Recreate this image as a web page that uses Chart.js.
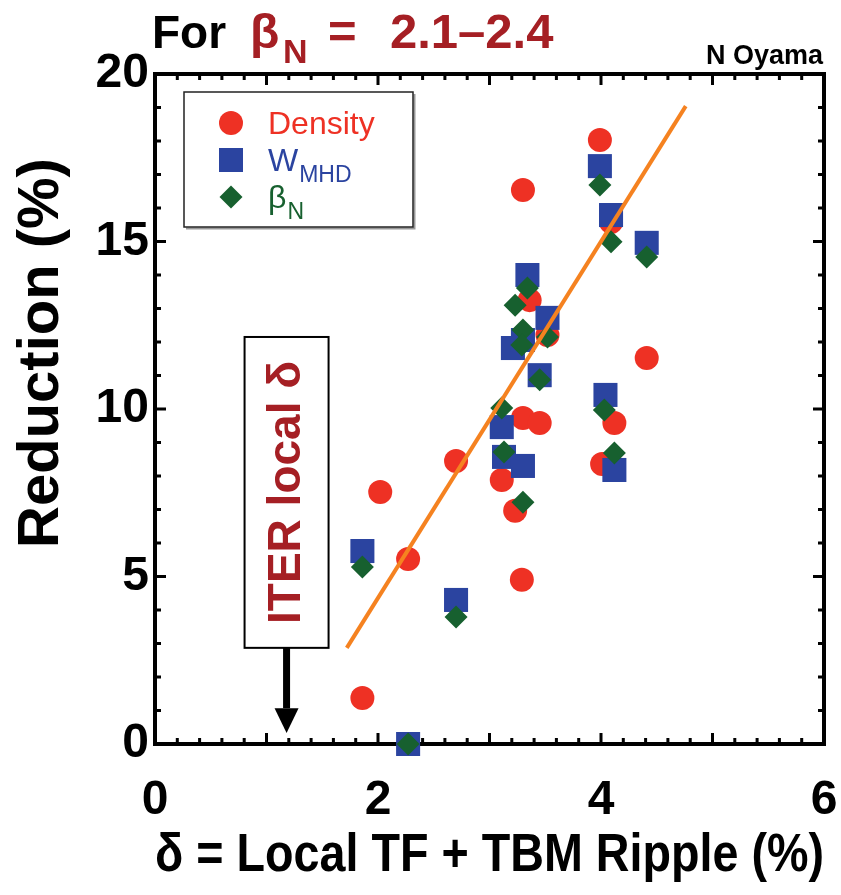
<!DOCTYPE html>
<html>
<head>
<meta charset="utf-8">
<script src="https://cdn.jsdelivr.net/npm/chart.js@4.4.0/dist/chart.umd.min.js"></script>
<style>
  html, body { margin: 0; padding: 0; background: #fff; }
  #wrap { width: 841px; height: 895px; }
</style>
</head>
<body>
<div id="wrap"><canvas id="rippleChart" width="841" height="895"></canvas></div>
<script>
// Reduction (%) vs local TF + TBM ripple (%), beta_N = 2.1-2.4
const densityX = [1.86, 2.02, 2.27, 2.70, 3.11, 3.23, 3.29, 3.30, 3.30, 3.36, 3.45, 3.52, 3.99, 4.09, 4.01, 4.12, 4.41];
const densityY = [1.37, 7.52, 5.52, 8.45, 7.88, 6.96, 4.90, 9.73, 16.54, 13.25, 9.58, 12.21, 18.03, 15.58, 8.36, 9.58, 11.52];

const wmhdX = [1.86, 2.27, 2.70, 3.11, 3.13, 3.30, 3.21, 3.30, 3.34, 3.52, 3.45, 3.99, 4.09, 4.41, 4.04, 4.12];
const wmhdY = [5.76, 0.0, 4.30, 9.46, 8.57, 8.30, 11.82, 12.06, 14.00, 12.72, 11.01, 17.25, 15.79, 14.96, 10.42, 8.18];

const betaX = [1.86, 2.27, 2.70, 3.11, 3.13, 3.30, 3.30, 3.29, 3.23, 3.34, 3.52, 3.45, 3.99, 4.09, 4.41, 4.03, 4.12];
const betaY = [5.28, 0.0, 3.79, 10.03, 8.72, 7.22, 12.36, 11.91, 13.10, 13.61, 12.15, 10.87, 16.69, 14.99, 14.54, 9.97, 8.69];

const fitX = [1.72, 4.76];
const fitY = [2.87, 19.04];

const xTicks = [0, 2, 4, 6];
const yTicks = [0, 5, 10, 15, 20];
const iterDelta = 1.18; // ITER local ripple marker

const FONT = "'Liberation Sans', Arial, sans-serif";
const RED = "#ee3124";
const BLUE = "#2b44a0";
const GREEN = "#17602f";
const DARKRED = "#a51f24";

function pts(xs, ys) {
  return xs.map((x, i) => ({ x: x, y: ys[i] }));
}

// frame with inward ticks on all four sides, legend, notes, titles
const framePlugin = {
  id: "frame",
  beforeDatasetsDraw(chart) {
    const { ctx, chartArea: a, scales } = chart;
    const xs = scales.x, ys = scales.y;
    ctx.save();
    ctx.strokeStyle = "#000";
    ctx.lineWidth = 3;
    for (let v = 0; v <= 6.001; v += 0.2) {
      const px = xs.getPixelForValue(v);
      const major = Math.abs(v - Math.round(v)) < 0.01;
      const len = major ? 11 : 6;
      ctx.beginPath();
      ctx.moveTo(px, a.bottom); ctx.lineTo(px, a.bottom - len);
      ctx.moveTo(px, a.top); ctx.lineTo(px, a.top + len);
      ctx.stroke();
    }
    for (let v = 0; v <= 20; v += 1) {
      const py = ys.getPixelForValue(v);
      const len = v % 5 === 0 ? 11 : 6;
      ctx.beginPath();
      ctx.moveTo(a.left, py); ctx.lineTo(a.left + len, py);
      ctx.moveTo(a.right, py); ctx.lineTo(a.right - len, py);
      ctx.stroke();
    }
    ctx.lineWidth = 4;
    ctx.strokeRect(a.left, a.top, a.right - a.left, a.bottom - a.top);
    ctx.restore();
  },
  afterDatasetsDraw(chart) {
    const { ctx, scales } = chart;
    const xs = scales.x, ys = scales.y;
    ctx.save();

    // legend box
    const lx = 184, ly = 92, lw = 229, lh = 135;
    ctx.fillStyle = "#fff";
    ctx.fillRect(lx, ly, lw, lh);
    ctx.strokeStyle = "#999";
    ctx.lineWidth = 2;
    ctx.beginPath();
    ctx.moveTo(lx + lw + 1.5, ly + 2); ctx.lineTo(lx + lw + 1.5, ly + lh + 1.5); ctx.lineTo(lx + 2, ly + lh + 1.5);
    ctx.stroke();
    ctx.strokeStyle = "#222";
    ctx.lineWidth = 1.5;
    ctx.strokeRect(lx, ly, lw, lh);

    const items = chart.data.datasets.filter(d => d.legendText);
    items.forEach((d, i) => {
      const cy = 123 + i * 37;
      ctx.fillStyle = d.backgroundColor;
      Chart.helpers.drawPoint(ctx, { pointStyle: d.pointStyle, radius: d.pointRadius, rotation: 0, borderWidth: 0 }, 231, cy);
      ctx.fillStyle = d.backgroundColor;
      ctx.textBaseline = "alphabetic";
      ctx.textAlign = "left";
      ctx.font = "32px " + FONT;
      ctx.fillText(d.legendText, 268, cy + 11);
      if (d.legendSub) {
        const w = ctx.measureText(d.legendText).width;
        ctx.font = "23px " + FONT;
        ctx.fillText(d.legendSub, 268 + w + 1, cy + 22);
      }
    });

    // ITER local delta box + arrow
    const cx = xs.getPixelForValue(iterDelta);
    const top = ys.getPixelForValue(12.15), bot = ys.getPixelForValue(2.87);
    ctx.fillStyle = "#fff";
    ctx.fillRect(cx - 42, top, 84, bot - top);
    ctx.strokeStyle = "#000";
    ctx.lineWidth = 2;
    ctx.strokeRect(cx - 42, top, 84, bot - top);
    ctx.save();
    ctx.translate(cx + 1, (top + bot) / 2);
    ctx.rotate(-Math.PI / 2);
    ctx.fillStyle = DARKRED;
    ctx.font = "bold 46px " + FONT;
    ctx.textAlign = "center";
    ctx.textBaseline = "middle";
    ctx.fillText("ITER local \u03b4", 0, 0);
    ctx.restore();
    const headTop = ys.getPixelForValue(1.07), tip = ys.getPixelForValue(0.33);
    ctx.fillStyle = "#000";
    ctx.fillRect(cx - 3.5, bot, 7, headTop - bot);
    ctx.beginPath();
    ctx.moveTo(cx - 12, headTop); ctx.lineTo(cx + 12, headTop); ctx.lineTo(cx, tip);
    ctx.closePath();
    ctx.fill();
    ctx.restore();
  },
  afterDraw(chart) {
    const { ctx } = chart;
    ctx.save();
    ctx.textBaseline = "alphabetic";
    ctx.textAlign = "left";
    ctx.fillStyle = "#000";
    ctx.font = "bold 46px " + FONT;
    ctx.fillText("For", 152, 48);
    ctx.fillStyle = DARKRED;
    ctx.font = "bold 48px " + FONT;
    ctx.fillText("\u03b2", 250, 48);
    ctx.font = "bold 34px " + FONT;
    ctx.fillText("N", 283, 63);
    ctx.font = "bold 49px " + FONT;
    ctx.fillText("=", 328, 48);
    ctx.fillText("2.1\u20132.4", 390, 48);
    ctx.fillStyle = "#000";
    ctx.font = "bold 27px " + FONT;
    ctx.textAlign = "right";
    ctx.fillText("N Oyama", 823, 64);

    // y axis title
    ctx.save();
    ctx.translate(42, 353);
    ctx.rotate(-Math.PI / 2);
    ctx.textAlign = "center";
    ctx.textBaseline = "middle";
    ctx.font = "bold 58px " + FONT;
    ctx.fillText("Reduction (%)", 0, 0);
    ctx.restore();
    ctx.restore();
  }
};

new Chart(document.getElementById("rippleChart"), {
  type: "scatter",
  data: {
    datasets: [
      {
        type: "line",
        data: pts(fitX, fitY),
        borderColor: "#f58220",
        borderWidth: 4,
        pointRadius: 0,
        fill: false,
        order: 0,
        clip: false
      },
      {
        legendText: "Density",
        data: pts(densityX, densityY),
        backgroundColor: RED,
        borderWidth: 0,
        pointStyle: "circle",
        pointRadius: 12,
        order: 3,
        clip: false
      },
      {
        legendText: "W",
        legendSub: "MHD",
        data: pts(wmhdX, wmhdY),
        backgroundColor: BLUE,
        borderWidth: 0,
        pointStyle: "rect",
        pointRadius: 17,
        order: 2,
        clip: false
      },
      {
        legendText: "\u03b2",
        legendSub: "N",
        data: pts(betaX, betaY),
        backgroundColor: GREEN,
        borderWidth: 0,
        pointStyle: "rectRot",
        pointRadius: 11.5,
        order: 1,
        clip: false
      }
    ]
  },
  options: {
    responsive: false,
    animation: false,
    layout: { padding: { left: 10, right: 16, top: 74, bottom: 6 } },
    plugins: {
      legend: { display: false },
      tooltip: { enabled: false }
    },
    scales: {
      x: {
        type: "linear",
        min: 0,
        max: 6,
        afterBuildTicks: (s) => { s.ticks = xTicks.map(v => ({ value: v })); },
        afterFit: (s) => { s.height = 145; s.paddingLeft = 0; s.paddingRight = 0; },
        grid: { display: false, drawTicks: false },
        border: { display: false },
        ticks: { color: "#000", padding: 28, font: { family: FONT, size: 48, weight: "bold" } },
        title: {
          display: true,
          text: "\u03b4 = Local TF + TBM Ripple (%)",
          color: "#000",
          padding: { top: 0, bottom: 0 },
          font: { family: FONT, size: 54, weight: "bold" }
        }
      },
      y: {
        min: 0,
        max: 20,
        afterBuildTicks: (s) => { s.ticks = yTicks.map(v => ({ value: v })); },
        afterFit: (s) => { s.width = 145; s.paddingTop = 0; s.paddingBottom = 0; },
        grid: { display: false, drawTicks: false },
        border: { display: false },
        ticks: { color: "#000", padding: 6, font: { family: FONT, size: 48, weight: "bold" } }
      }
    }
  },
  plugins: [framePlugin]
});
</script>
</body>
</html>
